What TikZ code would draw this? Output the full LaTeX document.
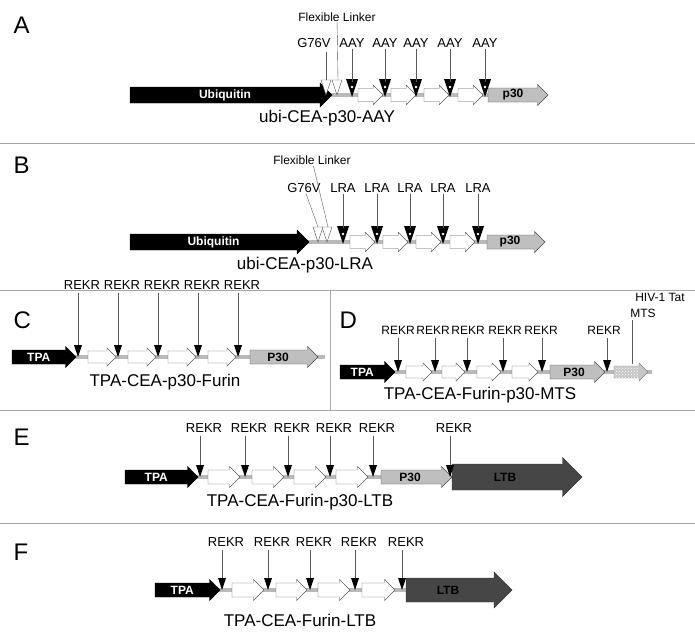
\documentclass[tikz,border=0pt]{standalone}
\usepackage{fontspec}
\setmainfont{Liberation Sans}
\usetikzlibrary{patterns}

\newcommand{\blockarrow}[6]{% x1, x2, y, half height, style, label
  \draw[#5] (#1,#3-#4) -- (#2-1.5*#4,#3-#4) -- (#2-1.5*#4,#3-1.5*#4) -- (#2,#3)
    -- (#2-1.5*#4,#3+1.5*#4) -- (#2-1.5*#4,#3+#4) -- (#1,#3+#4) -- cycle;
  \node[font=\bfseries\fontsize{12}{12}\selectfont,text=white] at ({(#1+#2-1.5*#4)/2},#3) {#6};
}
\newcommand{\spine}[3]{\fill[gray!55] (#1,#3-2) rectangle (#2,#3+2);}
\newcommand{\dotmark}[2]{%
  \fill (#1-6,#2-16) -- (#1+6,#2-16) -- (#1,#2+2) -- cycle;
  \fill[white] (#1,#2-8) circle (1.4);}
\newcommand{\openmark}[2]{\draw[gray!60!black,fill=white] (#1-5,#2-15) -- (#1+5,#2-15) -- (#1,#2) -- cycle;}
\newcommand{\cutmark}[2]{\fill (#1-4,#2-12) -- (#1+4,#2-12) -- (#1,#2) -- cycle;}

\begin{document}
\begin{tikzpicture}[x=1pt,y=-1pt]
  \tikzset{
    panel/.style={font=\fontsize{24}{24}\selectfont,anchor=west},
    site/.style={font=\fontsize{13}{13}\selectfont,inner sep=1pt},
    title/.style={font=\fontsize{17}{17}\selectfont},
    cea/.style={draw=gray!70!black,fill=white,thin},
    pep/.style={draw=gray!60!black,fill=gray!50},
    ltb/.style={draw=gray!40!black,fill=gray!55!black},
    dark/.style={font=\bfseries\fontsize{12}{12}\selectfont},
    pin/.style={gray!70!black,thin},
  }
  \useasboundingbox (0,0) rectangle (695,637);

  % separators
  \draw[gray!70] (0,143) -- (695,143);
  \draw[gray!70] (0,290) -- (695,290);
  \draw[gray!70] (330,290) -- (330,410);
  \draw[gray!70] (0,410) -- (695,410);
  \draw[gray!70] (0,523) -- (695,523);

  % A
  \node[panel] (pa) at (10,25) {A};
  \spine{320}{492}{95}
  \blockarrow{130}{332}{95}{8}{fill=black}{Ubiquitin}
  \foreach \x/\y in {358/383,391/416,424/449,458/483}
    {\blockarrow{\x}{\y}{95}{6.5}{cea}{}}
  \blockarrow{488}{548}{95}{7}{pep}{}
  \node[dark] (pA) at (513,95) {p30};
  \openmark{326}{95} \openmark{337}{95}
  \node[site,font=\fontsize{12}{12}\selectfont] (fla) at (337,17) {Flexible Linker};
  \node[site] (ga) at (314,43) {G76V};
  \draw[pin] (fla) -- (338,80);
  \draw[pin] (326,52) -- (326,80);
  \foreach \x [count=\i] in {352,385,416,450,485}{
    \dotmark{\x}{95}
    \node[site] (la\i) at (\x,43) {AAY};
    \draw[pin] (la\i) -- (\x,82);
  }
  \node[title] (ta) at (327,118) {ubi-CEA-p30-AAY};

  % B
  \node[panel] (pb) at (10,165) {B};
  \spine{300}{490}{242}
  \blockarrow{130}{309}{242}{8}{fill=black}{Ubiquitin}
  \foreach \x/\y in {350/375,383/408,416/441,450/475}
    {\blockarrow{\x}{\y}{242}{6.5}{cea}{}}
  \blockarrow{487}{545}{242}{7}{pep}{}
  \node[dark] (pB) at (510,242) {p30};
  \openmark{318}{242} \openmark{327}{242}
  \node[site,font=\fontsize{12}{12}\selectfont] (flb) at (312,160) {Flexible Linker};
  \node[site] (gb) at (304,188) {G76V};
  \draw[pin] (flb) -- (328,227);
  \draw[pin] (gb) -- (318,227);
  \foreach \x [count=\i] in {343,377,410,443,478}{
    \dotmark{\x}{242}
    \node[site] (lb\i) at (\x,188) {LRA};
    \draw[pin] (lb\i) -- (\x,228);
  }
  \node[title] (tb) at (305,265) {ubi-CEA-p30-LRA};

  % C
  \node[panel] (pc) at (10,320) {C};
  \spine{70}{325}{357}
  \blockarrow{12}{76}{357}{7}{fill=black}{TPA}
  \foreach \x/\y in {88/116,128/156,168/196,208/236}
    {\blockarrow{\x}{\y}{357}{6}{cea}{}}
  \blockarrow{250}{318}{357}{7}{pep}{}
  \node[dark] (pC) at (278,357) {P30};
  \foreach \x [count=\i] in {78,118,158,198,238}{
    \cutmark{\x}{357}
    \node[site] (lc\i) at (\x+4,285) {REKR};
    \draw[pin] (\x,293) -- (\x,345);
  }
  \node[title] (tc) at (165,382) {TPA-CEA-p30-Furin};

  % D
  \node[panel] (pd) at (336,320) {D};
  \spine{390}{652}{372}
  \blockarrow{340}{395}{372}{7}{fill=black}{TPA}
  \foreach \x/\y in {406/432,442/465,477/501,512/538}
    {\blockarrow{\x}{\y}{372}{6}{cea}{}}
  \blockarrow{550}{605}{372}{7}{pep}{}
  \node[dark] (pD) at (574,372) {P30};
  \blockarrow{614}{648}{372}{6}{draw=gray,fill=gray!45}{}
  \fill[pattern=crosshatch dots,pattern color=white] (614,366) rectangle (638,378);
  \foreach \x [count=\i] in {398,435,467,503,542,607}{
    \cutmark{\x}{372}
    \draw[pin] (\x,338) -- (\x,360);
  }
  \foreach \x [count=\i] in {398,433,468,505,541,604}
    \node[site,font=\fontsize{12}{12}\selectfont] (ld\i) at (\x,330) {REKR};
  \node[site,font=\fontsize{12}{12}\selectfont] (hiv) at (660,297) {HIV-1 Tat};
  \node[site,font=\fontsize{12}{12}\selectfont] (mts) at (643,313) {MTS};
  \draw[pin] (632,320) -- (632,364);
  \node[title] (td) at (480,395) {TPA-CEA-Furin-p30-MTS};

  % E
  \node[panel] (pe) at (10,437) {E};
  \spine{190}{455}{477}
  \blockarrow{125}{198}{477}{7}{fill=black}{TPA}
  \foreach \x/\y in {208/240,252/284,294/326,336/368}
    {\blockarrow{\x}{\y}{477}{7}{cea}{}}
  \blockarrow{381}{452}{477}{7}{pep}{}
  \node[dark] (pE) at (410,477) {P30};
  \blockarrow{452}{582}{477}{13}{ltb}{}
  \node[dark] (lE) at (505,477) {LTB};
  \foreach \x [count=\i] in {200,245,288,330,373,450}{
    \cutmark{\x}{477}
    \node[site] (le\i) at (\x+4,428) {REKR};
    \draw[pin] (\x,436) -- (\x,465);
  }
  \node[title] (te) at (300,502) {TPA-CEA-Furin-p30-LTB};

  % F
  \node[panel] (pf) at (10,552) {F};
  \spine{210}{410}{590}
  \blockarrow{155}{220}{590}{7}{fill=black}{TPA}
  \foreach \x/\y in {232/264,276/307,318/350,362/395}
    {\blockarrow{\x}{\y}{590}{7}{cea}{}}
  \blockarrow{406}{512}{590}{12}{ltb}{}
  \node[dark] (lF) at (448,590) {LTB};
  \foreach \x [count=\i] in {222,268,310,355,402}{
    \cutmark{\x}{590}
    \node[site] (lf\i) at (\x+4,542) {REKR};
    \draw[pin] (\x,550) -- (\x,578);
  }
  \node[title] (tf) at (300,620) {TPA-CEA-Furin-LTB};
\end{tikzpicture}
\end{document}
